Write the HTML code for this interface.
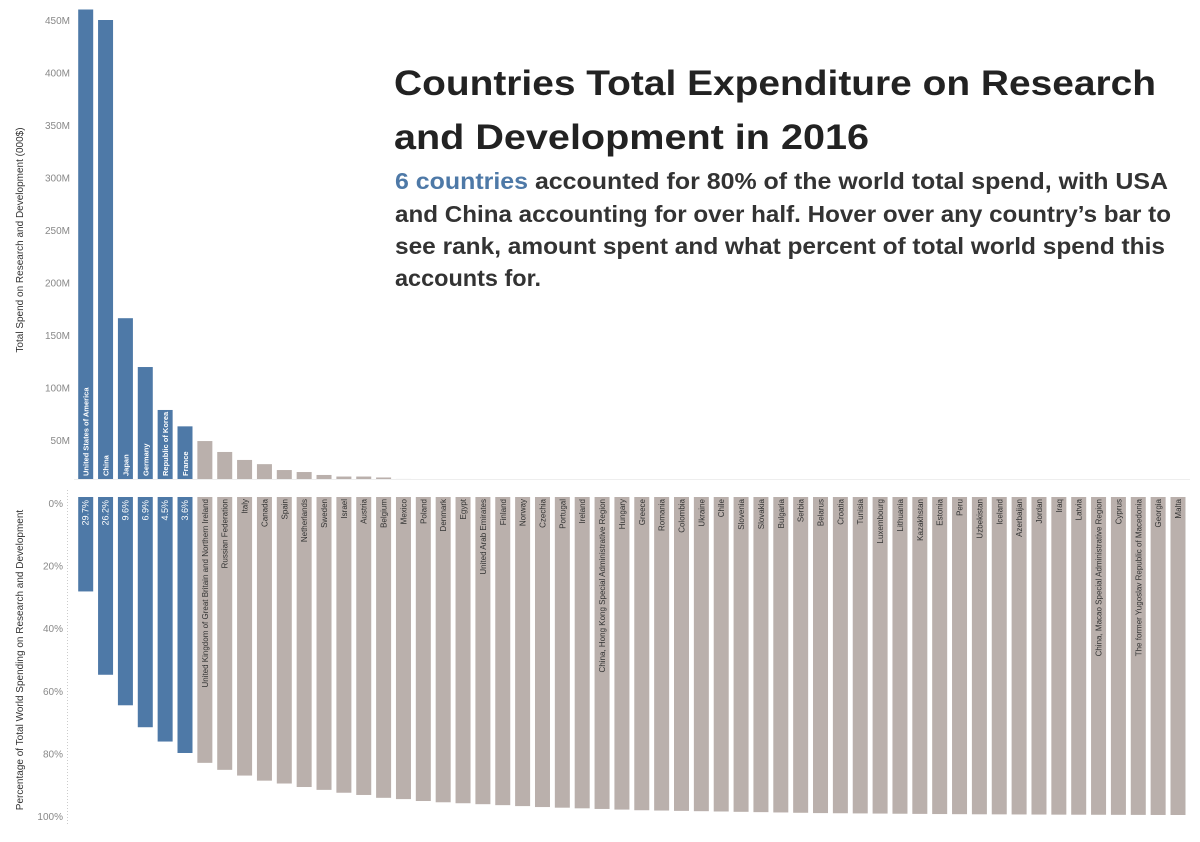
<!DOCTYPE html>
<html><head><meta charset="utf-8"><style>
html,body{margin:0;padding:0;background:#fff;}
svg{display:block;font-family:"Liberation Sans",sans-serif;}
</style></head><body>
<svg id="chart" width="1200" height="842" viewBox="0 0 1200 842">
  <g fill="#222" font-weight="bold" font-size="35">
    <text x="394" y="95" textLength="762" lengthAdjust="spacingAndGlyphs">Countries Total Expenditure on Research</text>
    <text x="394" y="149" textLength="475" lengthAdjust="spacingAndGlyphs">and Development in 2016</text>
  </g>
  <g fill="#333" font-weight="bold" font-size="23">
    <text x="395" y="189" textLength="773" lengthAdjust="spacingAndGlyphs"><tspan fill="#4e79a7">6 countries</tspan> accounted for 80% of the world total spend, with USA</text>
    <text x="395" y="222" textLength="776" lengthAdjust="spacingAndGlyphs">and China accounting for over half. Hover over any country’s bar to</text>
    <text x="395" y="254" textLength="770" lengthAdjust="spacingAndGlyphs">see rank, amount spent and what percent of total world spend this</text>
    <text x="395" y="286" textLength="146" lengthAdjust="spacingAndGlyphs">accounts for.</text>
  </g>
  <text transform="translate(23,240) rotate(-90)" text-anchor="middle" font-size="10" fill="#333">Total Spend on Research and Development (000$)</text>
  <text transform="translate(23,660) rotate(-90)" text-anchor="middle" font-size="10" fill="#333">Percentage of Total World Spending on Research and Development</text>
  <line x1="67.5" y1="490" x2="67.5" y2="826" stroke="#ccc" stroke-dasharray="1,2"/>
  <line x1="74" y1="479.5" x2="1190" y2="479.5" stroke="#eee"/>
  <g id="top-group"></g>
  <g id="bottom-group"></g>
</svg>
<script>
const countries = ["United States of America","China","Japan","Germany","Republic of Korea","France","United Kingdom of Great Britain and Northern Ireland","Russian Federation","Italy","Canada","Spain","Netherlands","Sweden","Israel","Austria","Belgium","Mexico","Poland","Denmark","Egypt","United Arab Emirates","Finland","Norway","Czechia","Portugal","Ireland","China, Hong Kong Special Administrative Region","Hungary","Greece","Romania","Colombia","Ukraine","Chile","Slovenia","Slovakia","Bulgaria","Serbia","Belarus","Croatia","Tunisia","Luxembourg","Lithuania","Kazakhstan","Estonia","Peru","Uzbekistan","Iceland","Azerbaijan","Jordan","Iraq","Latvia","China, Macao Special Administrative Region","Cyprus","The former Yugoslav Republic of Macedonia","Georgia","Malta"];
const spendM = [460,450,166,119.5,78.6,63,49,38.6,31,27,21.4,19.5,16.7,15.2,15.2,14.3,12.9,10,9,8,7.5,7,6.5,6,5,4.5,4,3.5,3,2.5,2,2,1.8,1.6,1.4,1.2,1.1,1,0.9,0.8,0.8,0.7,0.7,0.6,0.6,0.5,0.5,0.4,0.4,0.35,0.3,0.3,0.25,0.2,0.2,0.15];
const cumPct = [29.7,55.9,65.5,72.4,76.9,80.5,83.6,85.8,87.6,89.2,90.1,91.2,92.1,93.0,93.7,94.6,95.0,95.6,96.0,96.3,96.6,96.9,97.2,97.5,97.7,97.9,98.1,98.3,98.5,98.6,98.7,98.8,98.9,99.0,99.1,99.2,99.3,99.4,99.45,99.5,99.55,99.6,99.65,99.7,99.74,99.78,99.8,99.83,99.86,99.89,99.91,99.93,99.95,99.97,99.99,100];
const sharePct = ["29.7%","26.2%","9.6%","6.9%","4.5%","3.6%"];
const topTicks = [50,100,150,200,250,300,350,400,450];
const bottomTicks = [0,20,40,60,80,100];
const highlightCount = 6;

const NS="http://www.w3.org/2000/svg";
const xC = i => 85.7 + i*19.86;
const BW = 15;
const yTop = v => 492.5 - v*1.05;
const TOP_BASE = 479;
const yBot = p => 497 + p*3.18;
const yBotLabel = p => 503 + p*3.13;
function mk(tag, attrs, parent){const e=document.createElementNS(NS,tag);for(const k in attrs)e.setAttribute(k,attrs[k]);parent.appendChild(e);return e;}
const gTop=document.getElementById('top-group'), gBot=document.getElementById('bottom-group');

topTicks.forEach(t=>{
  const e=mk('text',{x:70,y:yTop(t)+4,'text-anchor':'end','font-size':10,fill:'#888'},gTop);
  e.textContent=t+'M';
  
  
});
bottomTicks.forEach(t=>{
  const e=mk('text',{x:63,y:yBotLabel(t)+4,'text-anchor':'end','font-size':10,fill:'#888'},gBot);
  e.textContent=t+'%';
  
  
});

countries.forEach((c,i)=>{
  const col = i<highlightCount ? '#4e79a7' : '#bab0ac';
  const x = xC(i)-BW/2;
  const yt = Math.min(TOP_BASE, yTop(spendM[i]));
  const h = TOP_BASE-yt;
  if(h>0){
    const r=mk('rect',{x:x,y:yt,width:BW,height:h,fill:col},gTop);
    
    
  }
  if(i<highlightCount){
    const t=mk('text',{transform:`translate(${xC(i)+3},${TOP_BASE-3}) rotate(-90)`,'font-size':7.5,fill:'#fff','font-weight':'bold'},gTop);
    t.textContent=c;
    
    
  }
  const b=mk('rect',{x:x,y:497,width:BW,height:yBot(cumPct[i])-497,fill:col},gBot);
  
  
  if(i<highlightCount){
    const t=mk('text',{transform:`translate(${xC(i)+3},500) rotate(-90)`,'font-size':9,fill:'#fff','text-anchor':'end'},gBot);
    t.textContent=sharePct[i];
    
    
  } else {
    const t=mk('text',{transform:`translate(${xC(i)+3},499) rotate(-90)`,'font-size':8,fill:'#333','text-anchor':'end'},gBot);
    t.textContent=c;
    
    
  }
});
</script>
</body></html>
